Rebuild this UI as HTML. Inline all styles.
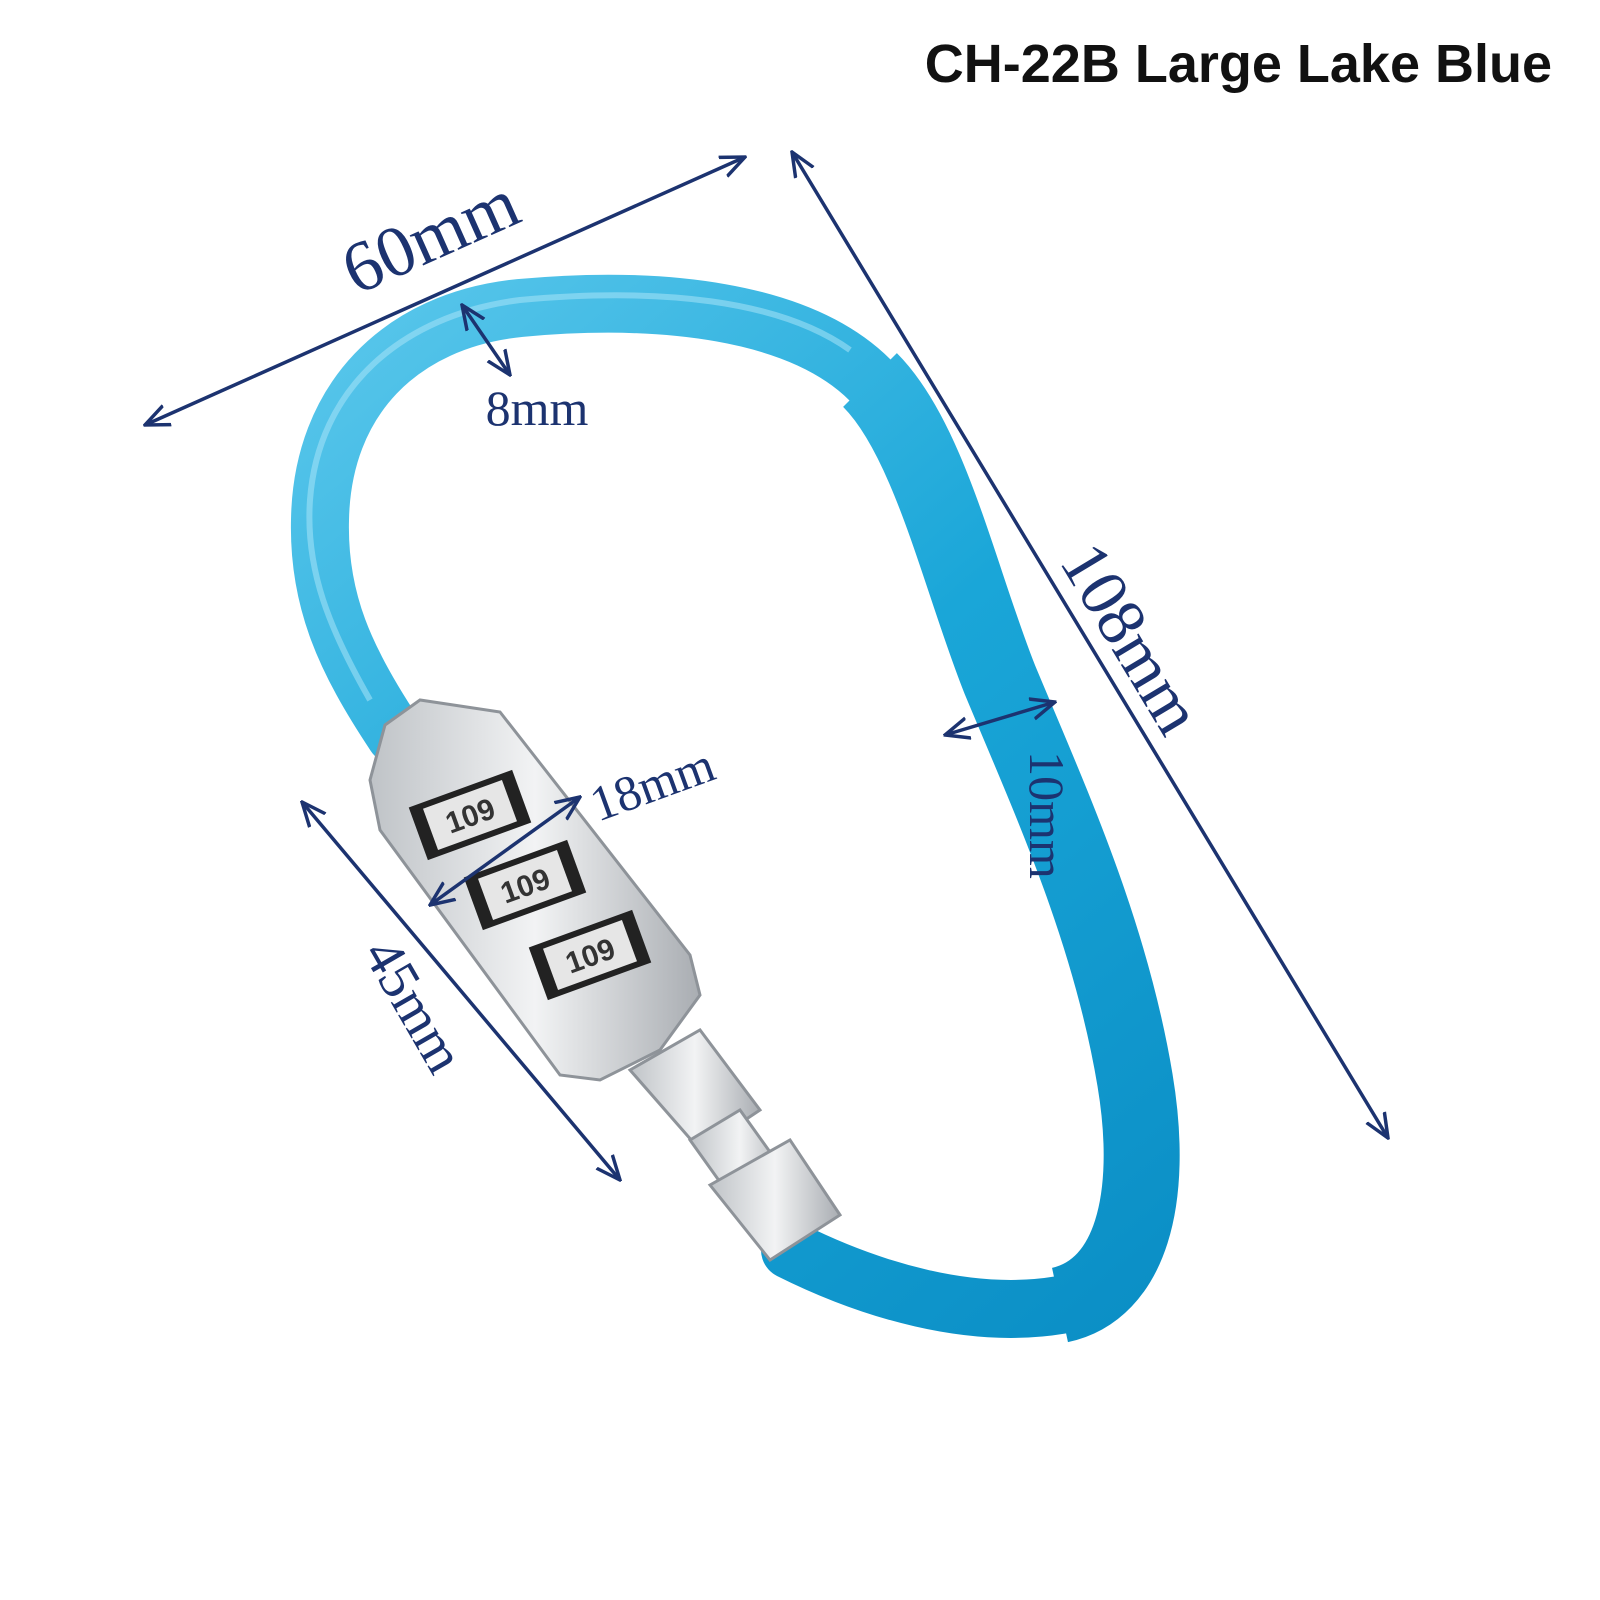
<!DOCTYPE html>
<html><head><style>
html,body{margin:0;padding:0;background:#fff;}
svg{display:block}
</style></head><body>
<svg width="1600" height="1600" viewBox="0 0 1600 1600" xmlns="http://www.w3.org/2000/svg">
<defs>
<linearGradient id="bl" gradientUnits="userSpaceOnUse" x1="300" y1="300" x2="1150" y2="1300">
<stop offset="0" stop-color="#5cc8ec"/><stop offset="0.5" stop-color="#1aa6d8"/><stop offset="1" stop-color="#0b8fc6"/>
</linearGradient>
<linearGradient id="si" x1="0" y1="0" x2="1" y2="0">
<stop offset="0" stop-color="#bfc3c7"/><stop offset="0.5" stop-color="#f2f3f4"/><stop offset="1" stop-color="#a9adb2"/>
</linearGradient>
<marker id="ah" viewBox="0 0 30 30" refX="28" refY="15" markerWidth="26" markerHeight="26" orient="auto-start-reverse" markerUnits="userSpaceOnUse">
<path d="M0,3 L28,15 L0,27" fill="none" stroke="#1c3370" stroke-width="4"/>
</marker>
</defs>
<text x="1552" y="82" text-anchor="end" font-family="Liberation Sans, sans-serif" font-weight="bold" font-size="54" fill="#111">CH-22B Large Lake Blue</text>

<!-- carabiner body -->
<path d="M395,735 C345,660 318,600 320,520 C322,400 400,320 520,308 C660,295 800,310 870,380 C930,440 960,580 1000,680 C1050,800 1110,930 1135,1080 C1155,1200 1130,1290 1060,1305 C970,1320 870,1290 790,1250"
 fill="none" stroke="url(#bl)" stroke-width="58" stroke-linecap="round"/>
<path d="M870,380 C930,440 960,580 1000,680 C1050,800 1110,930 1135,1080 C1155,1200 1130,1290 1060,1305"
 fill="none" stroke="url(#bl)" stroke-width="76" stroke-linecap="butt"/>
<path d="M370,700 C330,630 305,570 310,500 C318,390 400,315 520,300 C660,287 780,300 850,350"
 fill="none" stroke="#a8e4f7" stroke-width="6" opacity="0.55"/>

<!-- lock -->
<polygon points="385,725 420,700 500,712 690,955 700,995 660,1050 600,1080 560,1075 380,830 370,780" fill="url(#si)" stroke="#8e9399" stroke-width="3"/>
<polygon points="630,1070 700,1030 760,1110 700,1150" fill="url(#si)" stroke="#8e9399" stroke-width="3"/>
<polygon points="690,1140 740,1110 790,1180 740,1210" fill="url(#si)" stroke="#8e9399" stroke-width="3"/>
<polygon points="710,1185 790,1140 840,1215 770,1260" fill="url(#si)" stroke="#8e9399" stroke-width="3"/>
<g font-family="Liberation Sans, sans-serif" font-size="30" font-weight="bold" fill="#333">
<g transform="translate(470,815) rotate(-20)"><rect x="-55" y="-28" width="110" height="56" fill="#222"/><rect x="-42" y="-22" width="84" height="44" fill="#e6e6e6"/><text x="0" y="11" text-anchor="middle">109</text></g>
<g transform="translate(525,885) rotate(-20)"><rect x="-55" y="-28" width="110" height="56" fill="#222"/><rect x="-42" y="-22" width="84" height="44" fill="#e6e6e6"/><text x="0" y="11" text-anchor="middle">109</text></g>
<g transform="translate(590,955) rotate(-20)"><rect x="-55" y="-28" width="110" height="56" fill="#222"/><rect x="-42" y="-22" width="84" height="44" fill="#e6e6e6"/><text x="0" y="11" text-anchor="middle">109</text></g>
</g>

<!-- dimension arrows -->
<g stroke="#1c3370" stroke-width="3.5" fill="none" marker-start="url(#ah)" marker-end="url(#ah)">
<line x1="145" y1="425" x2="745" y2="157"/>
<line x1="792" y1="152" x2="1388" y2="1138"/>
<line x1="462" y1="305" x2="510" y2="375"/>
<line x1="945" y1="735" x2="1055" y2="702"/>
<line x1="430" y1="905" x2="580" y2="797"/>
<line x1="302" y1="802" x2="620" y2="1180"/>
</g>
<g font-family="Liberation Serif, serif" fill="#1c3370">
<text transform="translate(440,258) rotate(-24)" text-anchor="middle" font-size="72">60mm</text>
<text transform="translate(1112,650) rotate(59)" text-anchor="middle" font-size="68">108mm</text>
<text x="537" y="425" text-anchor="middle" font-size="50">8mm</text>
<text transform="translate(1030,815) rotate(90)" text-anchor="middle" font-size="50">10mm</text>
<text transform="translate(658,800) rotate(-20)" text-anchor="middle" font-size="50">18mm</text>
<text transform="translate(398,1015) rotate(60)" text-anchor="middle" font-size="56">45mm</text>
</g>
</svg>
</body></html>
